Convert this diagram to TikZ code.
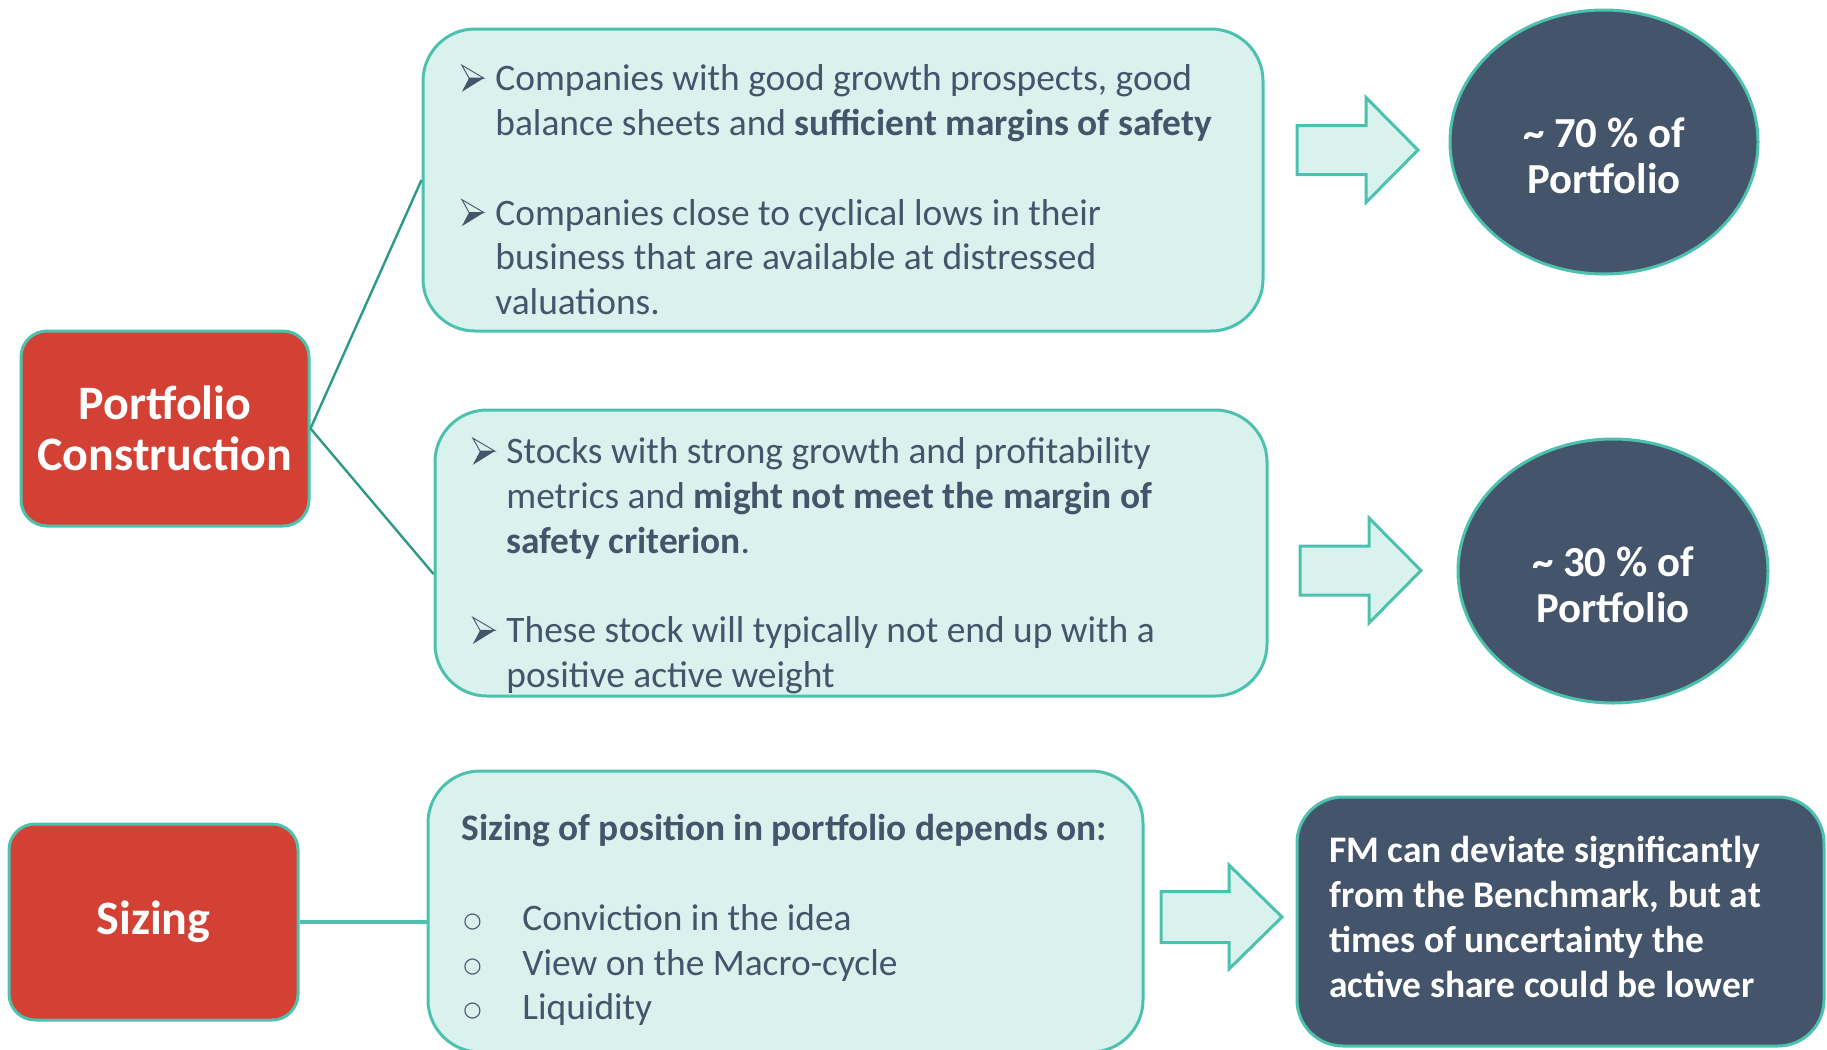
\documentclass[tikz,border=0pt]{standalone}
\usepackage{fontspec}
\setmainfont{Carlito}
\newfontfamily\symbole{DejaVu Sans}
\usetikzlibrary{shapes.geometric}
\definecolor{rouge}{HTML}{D34134}
\definecolor{ardoise}{HTML}{44546A}
\definecolor{menthe}{HTML}{DAF2EE}
\definecolor{turquoise}{HTML}{4CC2AE}
\definecolor{sarcelle}{HTML}{2E9987}
\newcommand{\puce}{\makebox[17pt][l]{\tikz[x=1pt,y=1pt,baseline=0pt]{%
	\fill[ardoise] (3.6,6.3)--(11,6.3)--(0,-0.5)--cycle;
	\draw[ardoise,line width=0.45pt,line join=miter] (0,12.8)--(11,6.3)--(3.6,6.3)--cycle;}}}
\newcommand{\retrait}{\hspace*{17pt}}
\newcommand{\rond}{\makebox[30.5pt][l]{\hspace{1pt}\raisebox{1.5pt}{\symbole\fontsize{10.5}{10.5}\selectfont ○}}}
\begin{document}
\begin{tikzpicture}[x=0.5pt,y=-0.5pt]
		\tikzstyle{boite}=[draw=turquoise,line width=1.5pt,fill=menthe,rounded corners=26pt,inner sep=0pt]
		\tikzstyle{titre}=[draw=turquoise,line width=1.5pt,fill=rouge,rounded corners=13pt,inner sep=0pt,text=white,align=center,font=\bfseries\fontsize{24}{25.5}\selectfont]
		\tikzstyle{bulle}=[ellipse,draw=turquoise,line width=1.5pt,fill=ardoise,inner sep=0pt,minimum width=154pt,minimum height=132pt]
		\tikzstyle{texte}=[anchor=north west,inner sep=0pt,text=ardoise,align=left,font=\fontsize{18.7}{22.4}\selectfont]
		\tikzstyle{blanc}=[inner sep=0pt,text=white,align=center,font=\bfseries\fontsize{21.4}{23}\selectfont]
		\tikzstyle{fleche}=[draw=turquoise,line width=1.5pt,fill=menthe,line join=miter]
		\tikzstyle{lien}=[draw=sarcelle,line width=1.2pt]
		\useasboundingbox (0,0) rectangle (1827,1050);
		% cadres
		\node[titre,minimum width=144pt,minimum height=97.5pt] (pc) at (165,428.5) {Portfolio\\Construction};
		\node[titre,minimum width=144.5pt,minimum height=98pt] (sz) at (153.5,922) {Sizing};
		\node[boite,minimum width=420pt,minimum height=151pt] (b1) at (843,180) {};
		\node[boite,minimum width=416pt,minimum height=143pt] (b2) at (851,553) {};
		\node[boite,minimum width=357.5pt,minimum height=140.5pt] (b3) at (785.5,911.5) {};
		\node[boite,fill=ardoise,rounded corners=23pt,minimum width=263.5pt,minimum height=124.5pt] (fm) at (1560.5,921.5) {};
		\node[bulle] (c1) at (1604,142) {};
		\node[bulle,minimum width=155pt] (c2) at (1613,571) {};
		% liens
		\draw[lien] (pc.east)--(b1.west);
		\draw[lien] (pc.east)--([yshift=-10.5pt]b2.west);
		\draw[draw=turquoise,line width=2pt] (sz.east)--(sz.east -| b3.west);
		% fleches
		\draw[fleche] (1297,125.5) -- ++(69,0) -- ++(0,-28) -- ++(52,52.5) -- ++(-52,52.5) -- ++(0,-28) -- ++(-69,0) -- cycle;
		\draw[fleche] (1300,546) -- ++(69,0) -- ++(0,-28) -- ++(52,52.5) -- ++(-52,52.5) -- ++(0,-28) -- ++(-69,0) -- cycle;
		\draw[fleche] (1161,891.5) -- ++(68,0) -- ++(0,-26.5) -- ++(53,52) -- ++(-53,52) -- ++(0,-26.5) -- ++(-68,0) -- cycle;
		% textes
		\node[texte] (t1) at (461,59) {\strut\puce Companies with good growth prospects, good\\
			\retrait balance sheets and \textbf{sufficient margins of safety}\\[22.4pt]
			\puce Companies close to cyclical lows in their\\
			\retrait business that are available at distressed\\
			\retrait valuations.};
		\node[texte] (t2) at (472,432) {\strut\puce Stocks with strong growth and profitability\\
			\retrait metrics and \textbf{might not meet the margin of}\\
			\retrait \textbf{safety criterion}.\\[22.4pt]
			\puce These stock will typically not end up with a\\
			\retrait positive active weight};
		\node[texte] (t3) at (461,809) {\strut\textbf{Sizing of position in portfolio depends on:}\\[22.4pt]
			\rond Conviction in the idea\\
			\rond View on the Macro-cycle\\
			\rond Liquidity};
		\node[blanc] (tc1) at ([yshift=-7pt]c1.center) {\textasciitilde{} 70 \% of\\Portfolio};
		\node[blanc] (tc2) at ([yshift=-7pt]c2.center) {\textasciitilde{} 30 \% of\\Portfolio};
		\node[texte,text=white,font=\bfseries\fontsize{18.75}{22.5}\selectfont] (tfm) at (1329,831) {\strut FM can deviate significantly\\
			from the Benchmark, but at\\
			times of uncertainty the\\
			active share could be lower};
	\end{tikzpicture}
\end{document}
